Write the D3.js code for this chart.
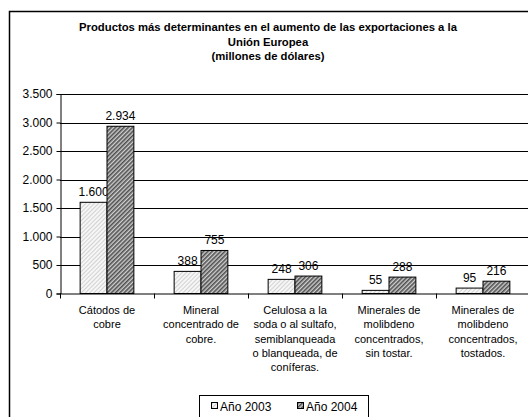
<!DOCTYPE html>
<html><head><meta charset="utf-8">
<script src="https://cdn.jsdelivr.net/npm/d3@7"></script>
<style>body{margin:0;background:#fff}svg{display:block}</style>
</head><body>
<svg id="c" width="528" height="417"></svg>
<script>
const categories = [
  ["Cátodos de","cobre"],
  ["Mineral","concentrado de","cobre."],
  ["Celulosa a la","soda o al sultafo,","semiblanqueada","o blanqueada, de","coníferas."],
  ["Minerales de","molibdeno","concentrados,","sin tostar."],
  ["Minerales de","molibdeno","concentrados,","tostados."]
];
const values2003 = [1600, 388, 248, 55, 95];
const values2004 = [2934, 755, 306, 288, 216];
const seriesNames = ["Año 2003", "Año 2004"];
const yTicks = [0, 500, 1000, 1500, 2000, 2500, 3000, 3500];
const titleLines = ["Productos más determinantes en el aumento de las exportaciones a la","Unión Europea","(millones de dólares)"];

const svg = d3.select("#c");
const font = "'Liberation Sans', Arial, sans-serif";
const defs = svg.append("defs");
const p1 = defs.append("pattern").attr("id","p2003").attr("patternUnits","userSpaceOnUse")
  .attr("width",3).attr("height",3).attr("patternTransform","rotate(45)");
p1.append("rect").attr("width",3).attr("height",3).attr("fill","#f6f6f6");
p1.append("rect").attr("width",1).attr("height",3).attr("fill","#d2d2d2");
const p2 = defs.append("pattern").attr("id","p2004").attr("patternUnits","userSpaceOnUse")
  .attr("width",3).attr("height",3).attr("patternTransform","rotate(45)");
p2.append("rect").attr("width",3).attr("height",3).attr("fill","#d0d0d0");
p2.append("rect").attr("width",1.6).attr("height",3).attr("fill","#505050");
const fills = ["url(#p2003)","url(#p2004)"];

svg.append("rect").attr("x",9.5).attr("y",11.5).attr("width",530).attr("height",420)
  .attr("fill","#fff").attr("stroke","#000").attr("stroke-width",1.5);

svg.append("g").selectAll("text").data(titleLines).join("text")
  .attr("x",268).attr("y",(d,i)=>31+i*14.5).attr("text-anchor","middle")
  .attr("font-family",font).attr("font-weight","bold").attr("font-size",11.3).attr("fill","#000")
  .text(d=>d);

const pLeft = 60, pRight = 530, pTop = 94, pBottom = 293.5;
const x = d3.scaleBand().domain(d3.range(categories.length)).range([pLeft,pRight]).padding(0);
const y = d3.scaleLinear().domain([0,3500]).range([pBottom,pTop]);
const bw = x.bandwidth()/3.5;

svg.append("g").selectAll("line").data(yTicks.filter(d=>d>0)).join("line")
  .attr("x1",pLeft).attr("x2",528).attr("y1",d=>Math.round(y(d))+0.5).attr("y2",d=>Math.round(y(d))+0.5)
  .attr("stroke","#000").attr("stroke-width",1);

const series = [values2003, values2004];
series.forEach((vals,si)=>{
  svg.append("g").selectAll("rect").data(vals).join("rect")
    .attr("x",(d,i)=>x(i)+0.75*bw+si*bw).attr("width",bw)
    .attr("y",d=>y(d)).attr("height",d=>pBottom-y(d))
    .attr("fill",fills[si]).attr("stroke","#000").attr("stroke-width",1);
  svg.append("g").selectAll("text").data(vals).join("text")
    .attr("x",(d,i)=>x(i)+0.75*bw+si*bw+bw/2).attr("y",d=>y(d)-6)
    .attr("text-anchor","middle").attr("font-family",font).attr("font-size",12).attr("fill","#000")
    .text(d=>d3.format(",")(d).replace(/,/g,"."));
});

const yAxis = d3.axisLeft(y).tickValues(yTicks).tickSize(4).tickPadding(4)
  .tickFormat(d=>d3.format(",")(d).replace(/,/g,"."));
const ga = svg.append("g").attr("transform",`translate(${pLeft+0.5},0)`).call(yAxis);
ga.select(".domain").attr("stroke","#000");
ga.selectAll("text").attr("font-family",font).attr("font-size",12).attr("fill","#000");
ga.selectAll("line").attr("stroke","#000");

svg.append("line").attr("x1",pLeft).attr("x2",528).attr("y1",pBottom+0.5).attr("y2",pBottom+0.5).attr("stroke","#000");
svg.append("g").selectAll("line").data(d3.range(categories.length)).join("line")
  .attr("x1",i=>Math.round(x(i))+0.5).attr("x2",i=>Math.round(x(i))+0.5)
  .attr("y1",pBottom).attr("y2",pBottom+5).attr("stroke","#000");
const cl = svg.append("g");
categories.forEach((lines,i)=>{
  cl.append("text").attr("text-anchor","middle").attr("font-family",font).attr("font-size",11).attr("fill","#000")
    .selectAll("tspan").data(lines).join("tspan")
    .attr("x",x(i)+x.bandwidth()/2).attr("y",(d,j)=>314+j*14.3).text(d=>d);
});

const lg = svg.append("g");
lg.append("rect").attr("x",199.5).attr("y",395.5).attr("width",169).attr("height",30)
  .attr("fill","#fff").attr("stroke","#000").attr("stroke-width",1);
const lx = [211, 297];
seriesNames.forEach((n,i)=>{
  lg.append("rect").attr("x",lx[i]+0.5).attr("y",402.5).attr("width",6).attr("height",6)
    .attr("fill",fills[i]).attr("stroke","#000").attr("stroke-width",1);
  lg.append("text").attr("x",lx[i]+9).attr("y",411).attr("font-family",font).attr("font-size",12)
    .attr("fill","#000").text(n);
});
</script>
</body></html>
